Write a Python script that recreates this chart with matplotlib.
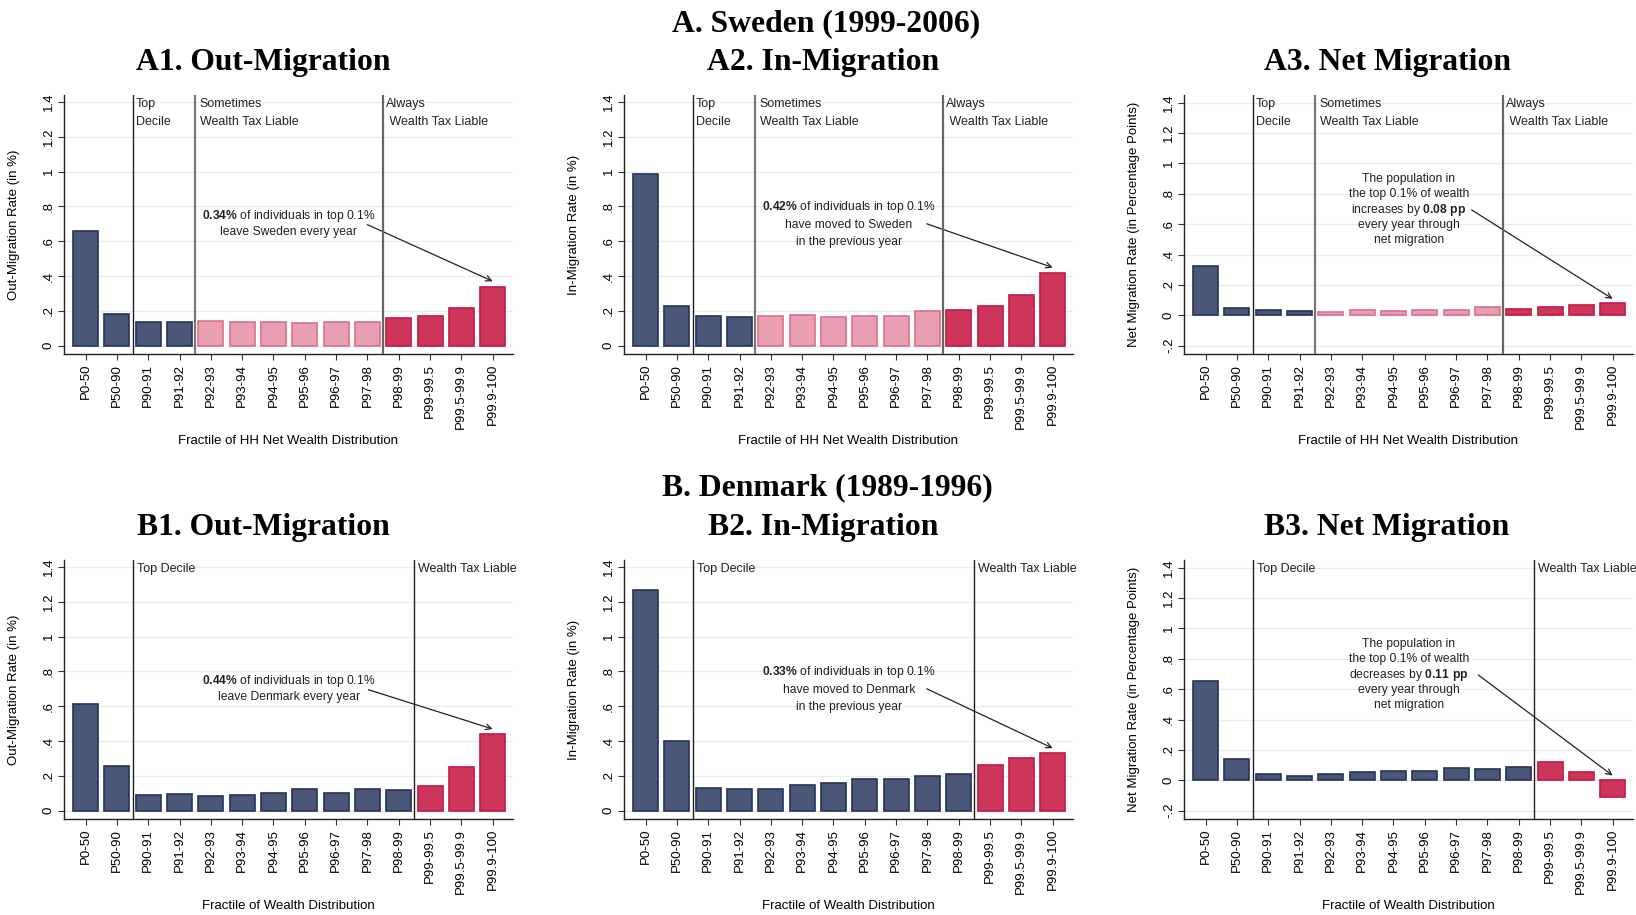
import numpy as np
import matplotlib
matplotlib.use('Agg')
import matplotlib.pyplot as plt

plt.rcParams['font.family'] = ['Liberation Sans', 'DejaVu Sans']
plt.rcParams['mathtext.fontset'] = 'custom'
plt.rcParams['mathtext.rm'] = 'Liberation Sans'
plt.rcParams['mathtext.bf'] = 'Liberation Sans:bold'

fractiles = ['P0-50', 'P50-90', 'P90-91', 'P91-92', 'P92-93', 'P93-94', 'P94-95',
             'P95-96', 'P96-97', 'P97-98', 'P98-99', 'P99-99.5', 'P99.5-99.9', 'P99.9-100']

# Sweden (1999-2006)
se_out = [0.657, 0.181, 0.133, 0.133, 0.144, 0.138, 0.133, 0.131, 0.133, 0.138, 0.161, 0.169, 0.217, 0.336]
se_in = [0.987, 0.230, 0.169, 0.165, 0.169, 0.175, 0.163, 0.169, 0.169, 0.198, 0.205, 0.229, 0.290, 0.417]
se_net = [0.327, 0.050, 0.037, 0.031, 0.024, 0.037, 0.029, 0.035, 0.035, 0.057, 0.042, 0.057, 0.068, 0.079]

# Denmark (1989-1996)
dk_out = [0.611, 0.255, 0.088, 0.094, 0.083, 0.088, 0.100, 0.123, 0.100, 0.123, 0.117, 0.140, 0.250, 0.440]
dk_in = [1.268, 0.398, 0.129, 0.123, 0.127, 0.146, 0.157, 0.184, 0.181, 0.198, 0.209, 0.261, 0.303, 0.330]
dk_net = [0.654, 0.143, 0.040, 0.029, 0.040, 0.053, 0.059, 0.059, 0.079, 0.072, 0.090, 0.118, 0.053, -0.110]

se_groups = ['navy'] * 4 + ['pink'] * 6 + ['red'] * 4
dk_groups = ['navy'] * 11 + ['red'] * 3

fills = {'navy': '#4a5675', 'pink': '#e8a0b0', 'red': '#cc365a'}
edges = {'navy': '#26335a', 'pink': '#d8708c', 'red': '#c41845'}

rate_ticks = [0, .2, .4, .6, .8, 1, 1.2, 1.4]
rate_labels = ['0', '.2', '.4', '.6', '.8', '1', '1.2', '1.4']
net_ticks = [-.2] + rate_ticks
net_labels = ['-.2'] + rate_labels

fig = plt.figure(figsize=(16.36, 9.15), dpi=100)

W, H = 1636, 915
lefts = [64, 624, 1184]
tops = [95, 560]
aw, ah = 449, 259


def panel(col, row, vals, groups, net, ylab, xlab, vlines, seclabels, note, arrow):
    ax = fig.add_axes([lefts[col] / W, 1 - (tops[row] + ah) / H, aw / W, ah / H])
    x = np.arange(len(fractiles))
    ax.bar(x, vals, width=0.8, color=[fills[g] for g in groups],
           edgecolor=[edges[g] for g in groups], linewidth=1.2, zorder=3)
    ax.set_xlim(-0.69, 13.65)
    if net:
        ax.set_ylim(-0.255, 1.45)
        ax.set_yticks(net_ticks)
        ax.set_yticklabels(net_labels, rotation=90, va='center')
    else:
        ax.set_ylim(-0.048, 1.44)
        ax.set_yticks(rate_ticks)
        ax.set_yticklabels(rate_labels, rotation=90, va='center')
    ax.yaxis.grid(True, color='#e6eef0', lw=1.0, zorder=0)
    ax.set_axisbelow(True)
    ax.set_xticks(x)
    ax.set_xticklabels(fractiles, rotation=90, fontsize=9.5)
    ax.tick_params(axis='both', length=4.5, width=0.8, color='#333333', labelsize=9.5)
    ax.tick_params(axis='x', pad=2.5)
    ax.tick_params(axis='y', pad=2)
    for s in ['top', 'right']:
        ax.spines[s].set_visible(False)
    for s in ['left', 'bottom']:
        ax.spines[s].set_color('#222222')
        ax.spines[s].set_linewidth(1.0)
    ax.set_ylabel(ylab, fontsize=9.5)
    ax.yaxis.set_label_coords(-0.098, 0.5)
    ax.set_xlabel(xlab, fontsize=9.5)
    ax.xaxis.set_label_coords(0.5, -0.312)
    for xv, c, lw in vlines:
        ax.axvline(xv, color=c, lw=lw, zorder=4)
    for xv, lines in seclabels:
        for k, t in enumerate(lines):
            ax.text(xv, [0.966, 0.895][k], t, transform=ax.get_xaxis_transform(),
                    fontsize=9, va='center', ha='left', color='#222222', clip_on=False)
    ys, lines = note
    for yv, t in zip(ys, lines):
        ax.text(6.49, yv, t, ha='center', va='center', fontsize=8.7, color='#222222')
    (x0, y0), (x1, y1) = arrow
    ax.annotate('', xy=(x1, y1), xytext=(x0, y0),
                arrowprops=dict(arrowstyle='->', color='#222222', lw=0.9,
                                shrinkA=0, shrinkB=0, mutation_scale=10))
    return ax


se_vl = [(1.5, '#222222', 1.0), (3.5, '#777777', 1.6), (9.5, '#666666', 1.6)]
dk_vl = [(1.5, '#222222', 1.0), (10.5, '#222222', 1.0)]
se_sec = [(1.61, ['Top', 'Decile']), (3.65, ['Sometimes', 'Wealth Tax Liable']),
          (9.6, ['Always', ' Wealth Tax Liable'])]
dk_sec = [(1.63, ['Top Decile']), (10.62, ['Wealth Tax Liable'])]

xl_se = 'Fractile of HH Net Wealth Distribution'
xl_dk = 'Fractile of Wealth Distribution'

panel(0, 0, se_out, se_groups, False, 'Out-Migration Rate (in %)', xl_se, se_vl, se_sec,
      ([0.747, 0.651], [r'$\mathbf{0.34\%}$ of individuals in top 0.1%', 'leave Sweden every year']),
      ((9.0, 0.695), (13.0, 0.37)))
panel(1, 0, se_in, se_groups, False, 'In-Migration Rate (in %)', xl_se, se_vl, se_sec,
      ([0.799, 0.695, 0.596], [r'$\mathbf{0.42\%}$ of individuals in top 0.1%',
                               'have moved to Sweden', 'in the previous year']),
      ((8.98, 0.70), (13.0, 0.449)))
panel(2, 0, se_net, se_groups, True, 'Net Migration Rate (in Percentage Points)', xl_se, se_vl, se_sec,
      ([0.897, 0.798, 0.693, 0.594, 0.495], ['The population in', 'the top 0.1% of wealth',
                                             r'increases by $\mathbf{0.08\ pp}$',
                                             'every year through', 'net migration']),
      ((8.5, 0.693), (13.0, 0.108)))
panel(0, 1, dk_out, dk_groups, False, 'Out-Migration Rate (in %)', xl_dk, dk_vl, dk_sec,
      ([0.747, 0.651], [r'$\mathbf{0.44\%}$ of individuals in top 0.1%', 'leave Denmark every year']),
      ((9.03, 0.695), (13.0, 0.469)))
panel(1, 1, dk_in, dk_groups, False, 'In-Migration Rate (in %)', xl_dk, dk_vl, dk_sec,
      ([0.799, 0.695, 0.595], [r'$\mathbf{0.33\%}$ of individuals in top 0.1%',
                               'have moved to Denmark', 'in the previous year']),
      ((8.98, 0.70), (13.0, 0.359)))
panel(2, 1, dk_net, dk_groups, True, 'Net Migration Rate (in Percentage Points)', xl_dk, dk_vl, dk_sec,
      ([0.897, 0.798, 0.693, 0.594, 0.495], ['The population in', 'the top 0.1% of wealth',
                                             r'decreases by $\mathbf{0.11\ pp}$',
                                             'every year through', 'net migration']),
      ((8.71, 0.693), (13.0, 0.031)))

tfont = dict(family='Liberation Serif', weight='bold', fontsize=22.8, ha='center', va='center')
fig.text(826 / W, 1 - 23.5 / H, 'A. Sweden (1999-2006)', **tfont)
fig.text(827 / W, 1 - 488 / H, 'B. Denmark (1989-1996)', **tfont)
for cx, ta, tb in [(263, 'A1. Out-Migration', 'B1. Out-Migration'),
                   (823, 'A2. In-Migration', 'B2. In-Migration'),
                   (1387, 'A3. Net Migration', 'B3. Net Migration')]:
    fig.text(cx / W, 1 - 62.5 / H, ta, **tfont)
    fig.text(cx / W, 1 - 528 / H, tb, **tfont)

fig.savefig('out.png', dpi=100, facecolor='white')
